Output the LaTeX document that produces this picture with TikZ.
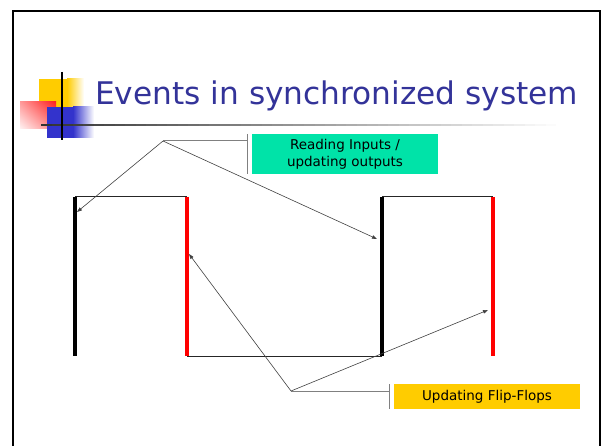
\documentclass[tikz,border=0pt]{standalone}
\usepackage{fontspec}
\setmainfont{DejaVu Sans}
\usetikzlibrary{arrows.meta, shadings}

\definecolor{titleblue}{HTML}{333399}
\definecolor{readgreen}{HTML}{00E3A8}
\definecolor{ffyellow}{HTML}{FFCC00}
\definecolor{logored}{HTML}{FF2020}
\definecolor{logoblue}{HTML}{3333CC}
\definecolor{edgered}{HTML}{FF0000}

\tikzset{
  labelbox/.style={inner sep=0pt, align=center, text=black,
    font=\fontsize{13.5}{17}\selectfont},
  bracket/.style={gray, line width=1pt},
  pointer/.style={->, black!75, line width=0.6pt},
  clockedge/.style={line width=3.5pt},
  level/.style={black!85, line width=1pt}
}

\begin{document}
\begin{tikzpicture}[x=1pt, y=-1pt, >={Triangle[length=5pt, width=3.5pt]}]
    \useasboundingbox (0,0) rectangle (602,446);
    % ---------------- slide frame
    \draw[line width=2pt] (13,446) -- (13,11) -- (600,11) -- (600,446);
    % ---------------- logo and title rule
    \fill[ffyellow] (39,79) rectangle (67,108);
    \shade[left color=ffyellow, right color=white] (67,79) rectangle (84,108);
    \shade[upper right=logored, lower right=logored!55, upper left=logored!45, lower left=logored!5] (20,102) rectangle (56,129);
    \fill[logoblue] (47,107) rectangle (73,138);
    \shade[left color=logoblue, right color=white] (73,107) rectangle (94,138);
    \foreach \i in {0,...,49}
      \fill[black!\fpeval{80-80*\i/49}] ({41+10.52*\i},123.7) rectangle ({41+10.52*(\i+1)+0.3},125.7);
    \draw[line width=1.5pt] (62,72) -- (62,140);
    \node[anchor=base west, inner sep=0pt, text=titleblue, font=\fontsize{31.2}{34}\selectfont]
      (title) at (95,105) {Events in synchronized system};
    % ---------------- clock waveform
    \coordinate (riseA) at (75,197);  \coordinate (riseAlow) at (75,356);
    \coordinate (fallA) at (187,197); \coordinate (fallAlow) at (187,356);
    \coordinate (riseB) at (382,197); \coordinate (riseBlow) at (382,356);
    \coordinate (fallB) at (493,197); \coordinate (fallBlow) at (493,356);
    \draw[level] (riseA) -- (fallA);
    \draw[level] (fallAlow) -- (riseBlow);
    \draw[level] (riseB) -- (fallB);
    \draw[clockedge, black] (riseA) -- (riseAlow);
    \draw[clockedge, edgered] (fallA) -- (fallAlow);
    \draw[clockedge, black] (riseB) -- (riseBlow);
    \draw[clockedge, edgered] (fallB) -- (fallBlow);
    % ---------------- callout: reading inputs
    \node[labelbox, fill=readgreen, minimum width=186pt, minimum height=40pt]
      (readbox) at (345,154) {Reading Inputs /\\updating outputs};
    \coordinate (readcall) at (163,141);
    \coordinate (readbar) at (247,141);
    \draw[bracket] (247,134) -- (247,174);
    \draw[bracket] (readcall) -- (readbar);
    \coordinate (tipriseA) at (77,212);
    \coordinate (tipriseB) at (377,239);
    \draw[pointer] (readcall) -- (tipriseA);
    \draw[pointer] (readcall) -- (tipriseB);
    % ---------------- callout: updating flip-flops
    \node[labelbox, fill=ffyellow, minimum width=186pt, minimum height=25pt]
      (ffbox) at (487,396.5) {Updating Flip-Flops};
    \coordinate (ffcall) at (291,391);
    \coordinate (ffbar) at (389,391);
    \draw[bracket] (389,384) -- (389,409);
    \draw[bracket] (ffcall) -- (ffbar);
    \coordinate (tipfallA) at (189,254);
    \coordinate (tipfallB) at (488,310);
    \draw[pointer] (ffcall) -- (tipfallA);
    \draw[pointer] (ffcall) -- (tipfallB);
\end{tikzpicture}
\end{document}
